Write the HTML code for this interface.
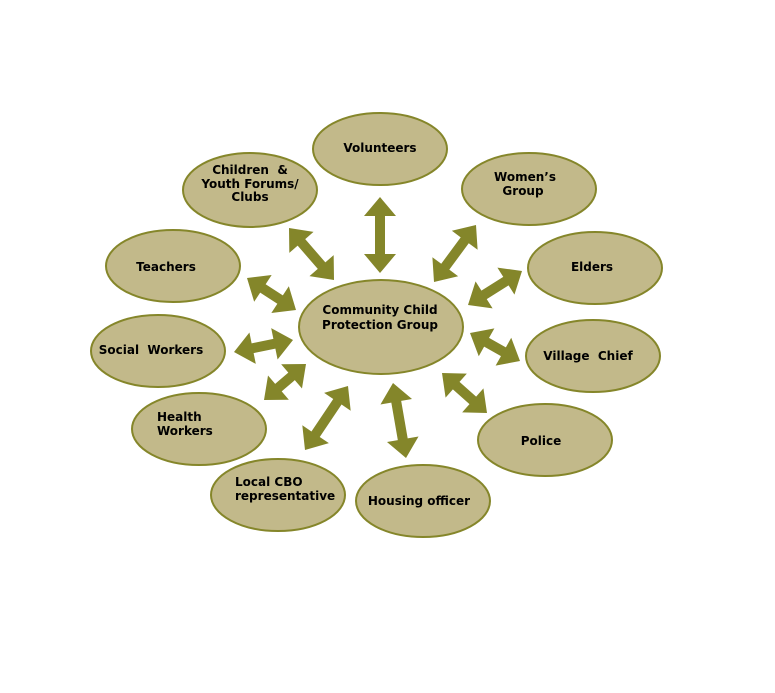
<!DOCTYPE html>
<html><head><meta charset="utf-8"><style>
html,body{margin:0;padding:0;background:#fff;}
svg{display:block;}
text{font-family:"DejaVu Sans","Liberation Sans",sans-serif;font-weight:bold;font-size:12px;fill:#000;dominant-baseline:central;white-space:pre;}
</style></head><body>
<svg id="s" width="775" height="693" xmlns="http://www.w3.org/2000/svg">
<g fill="#c2b98a" stroke="#85862a" stroke-width="2">
<ellipse cx="380" cy="149" rx="67" ry="36"/>
<ellipse cx="250" cy="190" rx="67" ry="37"/>
<ellipse cx="529" cy="189" rx="67" ry="36"/>
<ellipse cx="173" cy="266" rx="67" ry="36"/>
<ellipse cx="595" cy="268" rx="67" ry="36"/>
<ellipse cx="381" cy="327" rx="82" ry="47"/>
<ellipse cx="158" cy="351" rx="67" ry="36"/>
<ellipse cx="593" cy="356" rx="67" ry="36"/>
<ellipse cx="199" cy="429" rx="67" ry="36"/>
<ellipse cx="545" cy="440" rx="67" ry="36"/>
<ellipse cx="278" cy="495" rx="67" ry="36"/>
<ellipse cx="423" cy="501" rx="67" ry="36"/>
</g>
<g id="arrows" fill="#84862a"></g>
<text x="380" y="148" text-anchor="middle">Volunteers</text>
<text x="250" y="170" text-anchor="middle">Children  &amp;</text>
<text x="250" y="184" text-anchor="middle">Youth Forums/</text>
<text x="250" y="197" text-anchor="middle">Clubs</text>
<text x="525" y="177" text-anchor="middle">Women’s</text>
<text x="523" y="191" text-anchor="middle">Group</text>
<text x="166" y="267" text-anchor="middle">Teachers</text>
<text x="592" y="267" text-anchor="middle">Elders</text>
<text x="380" y="310" text-anchor="middle">Community Child</text>
<text x="380" y="325" text-anchor="middle">Protection Group</text>
<text x="151" y="350" text-anchor="middle">Social  Workers</text>
<text x="588" y="356" text-anchor="middle">Village  Chief</text>
<text x="157" y="417">Health</text>
<text x="157" y="431">Workers</text>
<text x="541" y="441" text-anchor="middle">Police</text>
<text x="235" y="482">Local CBO</text>
<text x="235" y="496">representative</text>
<text x="419" y="501" text-anchor="middle">Housing officer</text>
</svg>
<script>
var A=[[380,197,380,273],[289,228,334,280],[476,225,434,282],[247,278,296,310],[522,271,468,305],[234,352,293,340],[470,333,520,361],[264,400,306,364],[442,373,487,413],[348,386,305,450],[393,383,406,458]];
var g=document.getElementById('arrows'),ns='http://www.w3.org/2000/svg';
A.forEach(function(a){
var dx=a[2]-a[0],dy=a[3]-a[1],L=Math.sqrt(dx*dx+dy*dy),ang=Math.atan2(dy,dx)*180/Math.PI;
var h=19,w=16,s=5;
var p=[[0,0],[h,-w],[h,-s],[L-h,-s],[L-h,-w],[L,0],[L-h,w],[L-h,s],[h,s],[h,w]];
var e=document.createElementNS(ns,'polygon');
e.setAttribute('points',p.map(function(q){return q.join(',')}).join(' '));
e.setAttribute('transform','translate('+a[0]+','+a[1]+') rotate('+ang+')');
g.appendChild(e);});
</script>
</body></html>
